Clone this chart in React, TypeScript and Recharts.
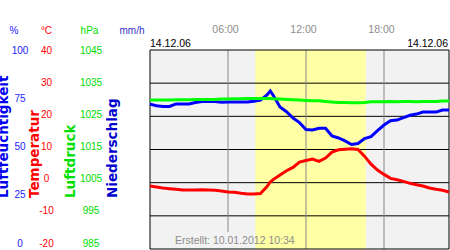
import React from 'react';
import { ComposedChart, Line, XAxis, YAxis, CartesianGrid, ReferenceArea, ReferenceLine } from 'recharts';

// time of day in hours (x axis)
const hours = [
  0, 0.5, 1, 1.5, 2, 2.5, 3, 3.5, 4, 4.5, 5, 5.5, 6, 6.5, 7, 7.5, 8, 8.5, 9, 9.25,
  9.5, 10, 10.5, 11, 11.5, 12, 12.5, 13, 13.5, 14, 14.5, 15, 15.5, 16, 16.5, 17, 17.5,
  18, 18.5, 19, 19.5, 20, 20.5, 21, 21.5, 22, 22.5, 23,
];

// Luftfeuchtigkeit in %
const humidity = [
  72.8, 72.0, 71.6, 71.6, 72.9, 72.9, 72.9, 73.6, 74.1, 74.1, 74.1, 73.7, 73.9, 73.9, 73.9, 73.9, 74.3, 74.8, 77.4, 79.4,
  77.0, 71.4, 69.0, 65.8, 63.5, 60.0, 59.8, 60.7, 60.7, 56.8, 55.8, 54.3, 52.5, 53.0, 55.5, 56.5, 59.5,
  62.3, 64.5, 64.8, 66.0, 67.2, 67.8, 68.8, 68.8, 68.8, 69.8, 69.8,
];

// Luftdruck in hPa
const pressure = [
  1029.9, 1029.9, 1029.9, 1029.9, 1030.0, 1030.0, 1030.0, 1030.1, 1030.1, 1030.1, 1030.1, 1030.2, 1030.2, 1030.3, 1030.3, 1030.4, 1030.4, 1030.4, 1030.4, 1030.4,
  1030.3, 1030.2, 1030.1, 1030.0, 1029.9, 1029.8, 1029.7, 1029.7, 1029.5, 1029.3, 1029.2, 1029.2, 1029.1, 1029.1, 1029.2, 1029.4, 1029.4,
  1029.4, 1029.5, 1029.4, 1029.5, 1029.5, 1029.4, 1029.5, 1029.5, 1029.5, 1029.6, 1029.6,
];

// Temperatur in °C
const temperature = [
  -1.0, -1.3, -1.6, -1.8, -2.0, -2.2, -2.2, -2.2, -2.1, -2.2, -2.3, -2.5, -2.8, -2.9, -3.2, -3.4, -3.4, -3.3, -1.2, 0.2,
  1.0, 2.3, 3.6, 4.6, 6.2, 6.7, 7.1, 6.4, 7.4, 9.2, 9.9, 10.1, 10.2, 10.0, 8.0, 5.6, 3.8,
  2.5, 1.3, 0.9, 0.4, -0.2, -0.6, -1.0, -1.6, -2.0, -2.3, -2.8,
];

const humidityTicks = [0, 25, 50, 75, 100];
const temperatureTicks = [-20, -10, 0, 10, 20, 30, 40];
const pressureTicks = [985, 995, 1005, 1015, 1025, 1035, 1045];
const rainTicks = [0, 4, 8, 12, 16, 20, 24];
const timeTicks = [6, 12, 18];
const timeLabels = ['06:00', '12:00', '18:00'];
const gridTemps = [30, 20, 10, 0, -10];
const daylight = [8.1, 16.6];

const data = hours.map((h, i) => ({
  h,
  humidity: humidity[i],
  pressure: pressure[i],
  temperature: temperature[i],
}));

const W = 450;
const H = 250;
const PLOT_TOP = 50;
const FONT = '"Liberation Sans", Arial, sans-serif';
const TITLE_FONT = '"DejaVu Sans", Verdana, sans-serif';

// tick labels on the left sit on a slightly tighter spacing than the grid
const makeTick = (cx: number, color: string) => (props: any) => {
  const { y, payload } = props;
  const ly = PLOT_TOP + 0.3 + (y - PLOT_TOP) * 0.968;
  return (
    <text x={cx} y={ly} dy="0.36em" textAnchor="middle" fill={color} fontSize={10} fontFamily={FONT}>
      {payload.value}
    </text>
  );
};

const TimeTick = (props: any) => {
  const { x, payload } = props;
  const label = timeLabels[timeTicks.indexOf(payload.value)];
  return (
    <text x={x - 2.5} y={33.3} textAnchor="middle" fill="#8c8c8c" fontSize={10.5} fontFamily={FONT}>
      {label}
    </text>
  );
};

const titles = [
  { text: 'Luftfeuchtigkeit', x: 8, color: '#0000ee' },
  { text: 'Temperatur', x: 39, color: '#ff0000' },
  { text: 'Luftdruck', x: 75, color: '#00e000' },
  { text: 'Niederschlag', x: 117, color: '#0000cc' },
];

const headers = [
  { text: '%', x: 14, color: '#2222ff' },
  { text: '°C', x: 46.5, color: '#ff0000' },
  { text: 'hPa', x: 89.5, color: '#00dd00' },
  { text: 'mm/h', x: 132, color: '#3333cc' },
];

const App: React.FC = () => {
  return (
    <div style={{ position: 'fixed', left: 0, top: 0, width: W, height: H, background: '#fff' }}>
      <ComposedChart width={W} height={H} data={data} margin={{ top: 0, right: 1, bottom: 1, left: 0 }}>
        <CartesianGrid yAxisId="temp" horizontal={false} vertical={false} fill="#f2f2f2" />
        <XAxis
          dataKey="h"
          type="number"
          orientation="top"
          domain={[0, 23]}
          ticks={timeTicks}
          height={50}
          axisLine={false}
          tickLine={false}
          tick={<TimeTick />}
        />
        <YAxis yAxisId="rain" type="number" domain={[0, 24]} ticks={rainTicks} interval={0} width={45}
          axisLine={false} tickLine={false} tick={makeTick(124.5, '#3333cc')} />
        <YAxis yAxisId="pres" type="number" domain={[985, 1045]} ticks={pressureTicks} interval={0} width={45}
          axisLine={false} tickLine={false} tick={makeTick(91, '#00dd00')} />
        <YAxis yAxisId="temp" type="number" domain={[-20, 40]} ticks={temperatureTicks} interval={0} width={30}
          axisLine={false} tickLine={false} tick={makeTick(46.5, '#ff0000')} />
        <YAxis yAxisId="hum" type="number" domain={[0, 100]} ticks={humidityTicks} interval={0} width={30}
          axisLine={false} tickLine={false} tick={makeTick(20, '#2222ff')} />

        <ReferenceArea yAxisId="temp" x1={daylight[0]} x2={daylight[1]} fill="#ffffa5" fillOpacity={1} stroke="none" />

        {gridTemps.map((t) => (
          <ReferenceLine key={t} yAxisId="temp" y={t} stroke="#000" strokeWidth={1} />
        ))}
        <ReferenceLine yAxisId="temp" segment={[{ x: 6, y: 40 }, { x: 6, y: -14.9 }]} stroke="#888" />
        <ReferenceLine yAxisId="temp" x={12} stroke="#888" />
        <ReferenceLine yAxisId="temp" x={18} stroke="#888" />

        <ReferenceLine yAxisId="temp" y={40} stroke="#000" />
        <ReferenceLine yAxisId="temp" y={-20} stroke="#000" />
        <ReferenceLine yAxisId="temp" x={0} stroke="#000" />
        <ReferenceLine yAxisId="temp" x={23} stroke="#000" />

        <Line yAxisId="hum" dataKey="humidity" stroke="#0000ff" strokeWidth={3} dot={false} isAnimationActive={false} />
        <Line yAxisId="pres" dataKey="pressure" stroke="#00ff00" strokeWidth={3} dot={false} isAnimationActive={false} />
        <Line yAxisId="temp" dataKey="temperature" stroke="#ff0000" strokeWidth={3} dot={false} isAnimationActive={false} />
      </ComposedChart>

      <svg width={W} height={H} style={{ position: 'absolute', left: 0, top: 0, pointerEvents: 'none' }}>
        {headers.map((hd) => (
          <text key={hd.text} x={hd.x} y={33.5} textAnchor="middle" fill={hd.color} fontSize={10} fontFamily={FONT}>
            {hd.text}
          </text>
        ))}
        {titles.map((t) => (
          <text
            key={t.text}
            x={t.x}
            y={198}
            transform={`rotate(-90 ${t.x} 198)`}
            fill={t.color}
            fontSize={13.5}
            fontWeight="bold"
            fontFamily={TITLE_FONT}
          >
            {t.text}
          </text>
        ))}
        <text x={150} y={46.5} fill="#000" fontSize={10.5} fontFamily={FONT}>14.12.06</text>
        <text x={448} y={46.5} textAnchor="end" fill="#000" fontSize={10.5} fontFamily={FONT}>14.12.06</text>
        <text x={175} y={244} fill="#8c8c8c" fontSize={10.5} fontFamily={FONT}>Erstellt: 10.01.2012 10:34</text>
      </svg>
    </div>
  );
};

export default App;
